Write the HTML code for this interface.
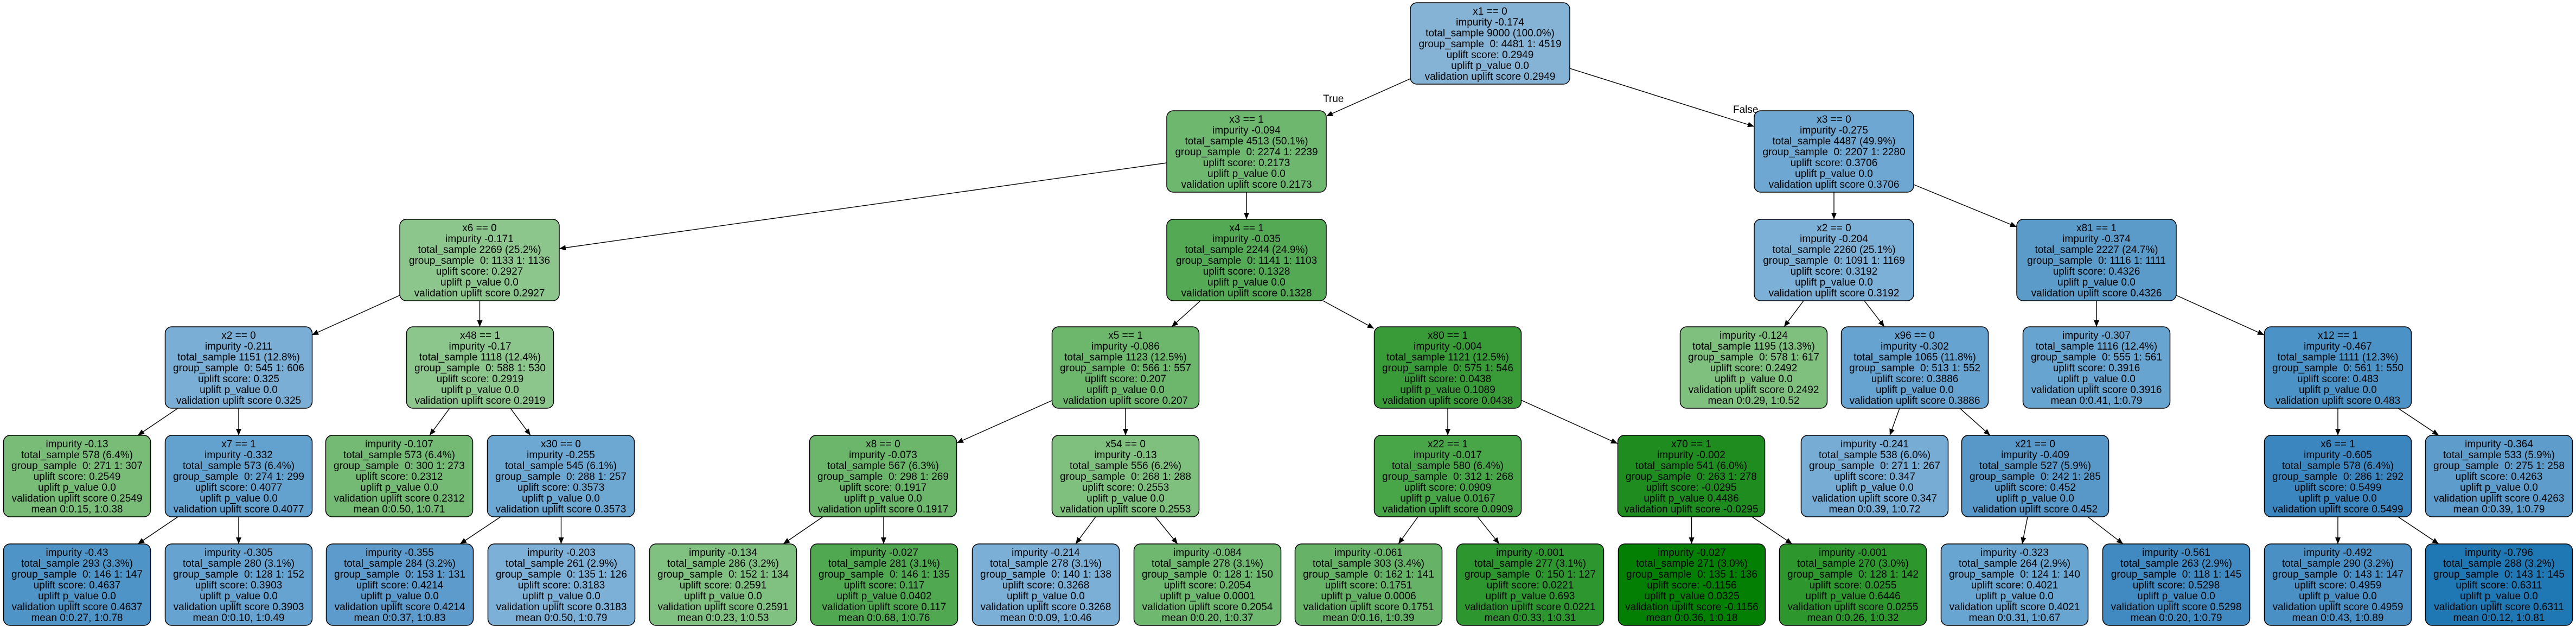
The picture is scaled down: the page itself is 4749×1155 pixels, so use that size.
<!DOCTYPE html>
<html><head><meta charset="utf-8"><style>
html,body{margin:0;padding:0;background:#fff;}
svg{display:block;}
text{font-family:"Liberation Sans",Arial,sans-serif;font-size:19px;fill:#000;white-space:pre;}
.n text{text-anchor:middle;}
rect{stroke:#000;stroke-width:1.5;}
line{stroke:#000;stroke-width:1.4;}
</style></head><body>
<svg width="4749" height="1155" viewBox="0 0 4749 1155" xmlns="http://www.w3.org/2000/svg">
<defs><marker id="ah" viewBox="0 0 12 10" refX="12" refY="5" markerWidth="12" markerHeight="10" markerUnits="userSpaceOnUse" orient="auto"><path d="M0,0 L12,5 L0,10 z" fill="#000"/></marker></defs>
<g marker-end="url(#ah)">
<line x1="2600" y1="145" x2="2445" y2="214" marker-end="url(#ah)"/>
<line x1="2894" y1="126" x2="3234" y2="233" marker-end="url(#ah)"/>
<line x1="2151" y1="300" x2="1031" y2="458" marker-end="url(#ah)"/>
<line x1="2298" y1="354" x2="2298" y2="404" marker-end="url(#ah)"/>
<line x1="3381" y1="354" x2="3381" y2="404" marker-end="url(#ah)"/>
<line x1="3528" y1="340" x2="3718" y2="418" marker-end="url(#ah)"/>
<line x1="737" y1="544" x2="575" y2="617" marker-end="url(#ah)"/>
<line x1="884.5" y1="554" x2="884.5" y2="602" marker-end="url(#ah)"/>
<line x1="2213" y1="554" x2="2160" y2="602" marker-end="url(#ah)"/>
<line x1="2439" y1="554" x2="2533" y2="605" marker-end="url(#ah)"/>
<line x1="3325" y1="554" x2="3289" y2="602" marker-end="url(#ah)"/>
<line x1="3437" y1="554" x2="3474" y2="602" marker-end="url(#ah)"/>
<line x1="3865" y1="554" x2="3865" y2="602" marker-end="url(#ah)"/>
<line x1="4012" y1="544" x2="4174" y2="617" marker-end="url(#ah)"/>
<line x1="328" y1="752" x2="254" y2="802" marker-end="url(#ah)"/>
<line x1="440" y1="752" x2="440" y2="802" marker-end="url(#ah)"/>
<line x1="829" y1="752" x2="792" y2="802" marker-end="url(#ah)"/>
<line x1="941" y1="752" x2="978" y2="802" marker-end="url(#ah)"/>
<line x1="1939" y1="738" x2="1764" y2="816" marker-end="url(#ah)"/>
<line x1="2075" y1="752" x2="2075" y2="802" marker-end="url(#ah)"/>
<line x1="2669" y1="752" x2="2669" y2="802" marker-end="url(#ah)"/>
<line x1="2804" y1="737" x2="2982" y2="817" marker-end="url(#ah)"/>
<line x1="3502" y1="752" x2="3484" y2="802" marker-end="url(#ah)"/>
<line x1="3613" y1="752" x2="3669" y2="802" marker-end="url(#ah)"/>
<line x1="4310" y1="752" x2="4310" y2="802" marker-end="url(#ah)"/>
<line x1="4421" y1="752" x2="4496" y2="802" marker-end="url(#ah)"/>
<line x1="328" y1="952" x2="254" y2="1002" marker-end="url(#ah)"/>
<line x1="440" y1="952" x2="440" y2="1002" marker-end="url(#ah)"/>
<line x1="923" y1="952" x2="848" y2="1002" marker-end="url(#ah)"/>
<line x1="1034.5" y1="952" x2="1034.5" y2="1002" marker-end="url(#ah)"/>
<line x1="1517" y1="952" x2="1444" y2="1002" marker-end="url(#ah)"/>
<line x1="1629" y1="952" x2="1629" y2="1002" marker-end="url(#ah)"/>
<line x1="2020" y1="952" x2="1983" y2="1002" marker-end="url(#ah)"/>
<line x1="2130" y1="952" x2="2171" y2="1002" marker-end="url(#ah)"/>
<line x1="2614" y1="952" x2="2578" y2="1002" marker-end="url(#ah)"/>
<line x1="2724" y1="952" x2="2764" y2="1002" marker-end="url(#ah)"/>
<line x1="3118.5" y1="952" x2="3118.5" y2="1002" marker-end="url(#ah)"/>
<line x1="3230" y1="952" x2="3304" y2="1002" marker-end="url(#ah)"/>
<line x1="3738" y1="952" x2="3728" y2="1002" marker-end="url(#ah)"/>
<line x1="3849" y1="952" x2="3914" y2="1002" marker-end="url(#ah)"/>
<line x1="4310" y1="952" x2="4310" y2="1002" marker-end="url(#ah)"/>
<line x1="4421" y1="952" x2="4496" y2="1002" marker-end="url(#ah)"/>
</g>
<text x="2439" y="188">True</text>
<text x="3195" y="208">False</text>

<g class="n">
<!-- L0 -->
<rect x="2600" y="5" width="294" height="150" rx="12" fill="#84b3d6"/>
<text x="2747" y="27"><tspan x="2747">x1 == 0</tspan><tspan x="2747" dy="20">impurity -0.174</tspan><tspan x="2747" dy="20">total_sample 9000 (100.0%)</tspan><tspan x="2747" dy="20">group_sample  0: 4481 1: 4519</tspan><tspan x="2747" dy="20">uplift score: 0.2949</tspan><tspan x="2747" dy="20">uplift p_value 0.0</tspan><tspan x="2747" dy="20">validation uplift score 0.2949</tspan></text>
<!-- L1 -->
<rect x="2151" y="204" width="294" height="150" rx="12" fill="#6db76f"/>
<text x="2298" y="226"><tspan x="2298">x3 == 1</tspan><tspan x="2298" dy="20">impurity -0.094</tspan><tspan x="2298" dy="20">total_sample 4513 (50.1%)</tspan><tspan x="2298" dy="20">group_sample  0: 2274 1: 2239</tspan><tspan x="2298" dy="20">uplift score: 0.2173</tspan><tspan x="2298" dy="20">uplift p_value 0.0</tspan><tspan x="2298" dy="20">validation uplift score 0.2173</tspan></text>
<rect x="3234" y="204" width="294" height="150" rx="12" fill="#6ea7d1"/>
<text x="3381" y="226"><tspan x="3381">x3 == 0</tspan><tspan x="3381" dy="20">impurity -0.275</tspan><tspan x="3381" dy="20">total_sample 4487 (49.9%)</tspan><tspan x="3381" dy="20">group_sample  0: 2207 1: 2280</tspan><tspan x="3381" dy="20">uplift score: 0.3706</tspan><tspan x="3381" dy="20">uplift p_value 0.0</tspan><tspan x="3381" dy="20">validation uplift score 0.3706</tspan></text>
<!-- L2 -->
<rect x="737" y="404" width="294" height="150" rx="12" fill="#8cc68c"/>
<text x="884" y="426"><tspan x="884">x6 == 0</tspan><tspan x="884" dy="20">impurity -0.171</tspan><tspan x="884" dy="20">total_sample 2269 (25.2%)</tspan><tspan x="884" dy="20">group_sample  0: 1133 1: 1136</tspan><tspan x="884" dy="20">uplift score: 0.2927</tspan><tspan x="884" dy="20">uplift p_value 0.0</tspan><tspan x="884" dy="20">validation uplift score 0.2927</tspan></text>
<rect x="2151" y="404" width="294" height="150" rx="12" fill="#54a954"/>
<text x="2298" y="426"><tspan x="2298">x4 == 1</tspan><tspan x="2298" dy="20">impurity -0.035</tspan><tspan x="2298" dy="20">total_sample 2244 (24.9%)</tspan><tspan x="2298" dy="20">group_sample  0: 1141 1: 1103</tspan><tspan x="2298" dy="20">uplift score: 0.1328</tspan><tspan x="2298" dy="20">uplift p_value 0.0</tspan><tspan x="2298" dy="20">validation uplift score 0.1328</tspan></text>
<rect x="3234" y="404" width="294" height="150" rx="12" fill="#7cb0d7"/>
<text x="3381" y="426"><tspan x="3381">x2 == 0</tspan><tspan x="3381" dy="20">impurity -0.204</tspan><tspan x="3381" dy="20">total_sample 2260 (25.1%)</tspan><tspan x="3381" dy="20">group_sample  0: 1091 1: 1169</tspan><tspan x="3381" dy="20">uplift score: 0.3192</tspan><tspan x="3381" dy="20">uplift p_value 0.0</tspan><tspan x="3381" dy="20">validation uplift score 0.3192</tspan></text>
<rect x="3718" y="404" width="294" height="150" rx="12" fill="#5a9bca"/>
<text x="3865" y="426"><tspan x="3865">x81 == 1</tspan><tspan x="3865" dy="20">impurity -0.374</tspan><tspan x="3865" dy="20">total_sample 2227 (24.7%)</tspan><tspan x="3865" dy="20">group_sample  0: 1116 1: 1111</tspan><tspan x="3865" dy="20">uplift score: 0.4326</tspan><tspan x="3865" dy="20">uplift p_value 0.0</tspan><tspan x="3865" dy="20">validation uplift score 0.4326</tspan></text>
<!-- L3 -->
<rect x="304.5" y="602" width="271" height="150" rx="12" fill="#7aaed5"/>
<text x="440" y="624"><tspan x="440">x2 == 0</tspan><tspan x="440" dy="20">impurity -0.211</tspan><tspan x="440" dy="20">total_sample 1151 (12.8%)</tspan><tspan x="440" dy="20">group_sample  0: 545 1: 606</tspan><tspan x="440" dy="20">uplift score: 0.325</tspan><tspan x="440" dy="20">uplift p_value 0.0</tspan><tspan x="440" dy="20">validation uplift score 0.325</tspan></text>
<rect x="749.5" y="602" width="271" height="150" rx="12" fill="#8cc68c"/>
<text x="885" y="624"><tspan x="885">x48 == 1</tspan><tspan x="885" dy="20">impurity -0.17</tspan><tspan x="885" dy="20">total_sample 1118 (12.4%)</tspan><tspan x="885" dy="20">group_sample  0: 588 1: 530</tspan><tspan x="885" dy="20">uplift score: 0.2919</tspan><tspan x="885" dy="20">uplift p_value 0.0</tspan><tspan x="885" dy="20">validation uplift score 0.2919</tspan></text>
<rect x="1939.5" y="602" width="271" height="150" rx="12" fill="#6db76d"/>
<text x="2075" y="624"><tspan x="2075">x5 == 1</tspan><tspan x="2075" dy="20">impurity -0.086</tspan><tspan x="2075" dy="20">total_sample 1123 (12.5%)</tspan><tspan x="2075" dy="20">group_sample  0: 566 1: 557</tspan><tspan x="2075" dy="20">uplift score: 0.207</tspan><tspan x="2075" dy="20">uplift p_value 0.0</tspan><tspan x="2075" dy="20">validation uplift score 0.207</tspan></text>
<rect x="2533.5" y="602" width="271" height="150" rx="12" fill="#389b38"/>
<text x="2669" y="624"><tspan x="2669">x80 == 1</tspan><tspan x="2669" dy="20">impurity -0.004</tspan><tspan x="2669" dy="20">total_sample 1121 (12.5%)</tspan><tspan x="2669" dy="20">group_sample  0: 575 1: 546</tspan><tspan x="2669" dy="20">uplift score: 0.0438</tspan><tspan x="2669" dy="20">uplift p_value 0.1089</tspan><tspan x="2669" dy="20">validation uplift score 0.0438</tspan></text>
<rect x="3097.5" y="602" width="271" height="150" rx="12" fill="#7fc07f"/>
<text x="3233" y="624"><tspan x="3233">impurity -0.124</tspan><tspan x="3233" dy="20">total_sample 1195 (13.3%)</tspan><tspan x="3233" dy="20">group_sample  0: 578 1: 617</tspan><tspan x="3233" dy="20">uplift score: 0.2492</tspan><tspan x="3233" dy="20">uplift p_value 0.0</tspan><tspan x="3233" dy="20">validation uplift score 0.2492</tspan><tspan x="3233" dy="20">mean 0:0.29, 1:0.52</tspan></text>
<rect x="3394.5" y="602" width="271" height="150" rx="12" fill="#66a3d0"/>
<text x="3530" y="624"><tspan x="3530">x96 == 0</tspan><tspan x="3530" dy="20">impurity -0.302</tspan><tspan x="3530" dy="20">total_sample 1065 (11.8%)</tspan><tspan x="3530" dy="20">group_sample  0: 513 1: 552</tspan><tspan x="3530" dy="20">uplift score: 0.3886</tspan><tspan x="3530" dy="20">uplift p_value 0.0</tspan><tspan x="3530" dy="20">validation uplift score 0.3886</tspan></text>
<rect x="3729.5" y="602" width="271" height="150" rx="12" fill="#67a4d0"/>
<text x="3865" y="624"><tspan x="3865">impurity -0.307</tspan><tspan x="3865" dy="20">total_sample 1116 (12.4%)</tspan><tspan x="3865" dy="20">group_sample  0: 555 1: 561</tspan><tspan x="3865" dy="20">uplift score: 0.3916</tspan><tspan x="3865" dy="20">uplift p_value 0.0</tspan><tspan x="3865" dy="20">validation uplift score 0.3916</tspan><tspan x="3865" dy="20">mean 0:0.41, 1:0.79</tspan></text>
<rect x="4174.5" y="602" width="271" height="150" rx="12" fill="#4b92c6"/>
<text x="4310" y="624"><tspan x="4310">x12 == 1</tspan><tspan x="4310" dy="20">impurity -0.467</tspan><tspan x="4310" dy="20">total_sample 1111 (12.3%)</tspan><tspan x="4310" dy="20">group_sample  0: 561 1: 550</tspan><tspan x="4310" dy="20">uplift score: 0.483</tspan><tspan x="4310" dy="20">uplift p_value 0.0</tspan><tspan x="4310" dy="20">validation uplift score 0.483</tspan></text>
<!-- L4 -->
<rect x="6.5" y="802" width="271" height="150" rx="12" fill="#78bc78"/>
<text x="142" y="824"><tspan x="142">impurity -0.13</tspan><tspan x="142" dy="20">total_sample 578 (6.4%)</tspan><tspan x="142" dy="20">group_sample  0: 271 1: 307</tspan><tspan x="142" dy="20">uplift score: 0.2549</tspan><tspan x="142" dy="20">uplift p_value 0.0</tspan><tspan x="142" dy="20">validation uplift score 0.2549</tspan><tspan x="142" dy="20">mean 0:0.15, 1:0.38</tspan></text>
<rect x="304.5" y="802" width="271" height="150" rx="12" fill="#63a1ce"/>
<text x="440" y="824"><tspan x="440">x7 == 1</tspan><tspan x="440" dy="20">impurity -0.332</tspan><tspan x="440" dy="20">total_sample 573 (6.4%)</tspan><tspan x="440" dy="20">group_sample  0: 274 1: 299</tspan><tspan x="440" dy="20">uplift score: 0.4077</tspan><tspan x="440" dy="20">uplift p_value 0.0</tspan><tspan x="440" dy="20">validation uplift score 0.4077</tspan></text>
<rect x="600.5" y="802" width="271" height="150" rx="12" fill="#74ba74"/>
<text x="736" y="824"><tspan x="736">impurity -0.107</tspan><tspan x="736" dy="20">total_sample 573 (6.4%)</tspan><tspan x="736" dy="20">group_sample  0: 300 1: 273</tspan><tspan x="736" dy="20">uplift score: 0.2312</tspan><tspan x="736" dy="20">uplift p_value 0.0</tspan><tspan x="736" dy="20">validation uplift score 0.2312</tspan><tspan x="736" dy="20">mean 0:0.50, 1:0.71</tspan></text>
<rect x="898.5" y="802" width="271" height="150" rx="12" fill="#6da8d3"/>
<text x="1034" y="824"><tspan x="1034">x30 == 0</tspan><tspan x="1034" dy="20">impurity -0.255</tspan><tspan x="1034" dy="20">total_sample 545 (6.1%)</tspan><tspan x="1034" dy="20">group_sample  0: 288 1: 257</tspan><tspan x="1034" dy="20">uplift score: 0.3573</tspan><tspan x="1034" dy="20">uplift p_value 0.0</tspan><tspan x="1034" dy="20">validation uplift score 0.3573</tspan></text>
<rect x="1492.5" y="802" width="271" height="150" rx="12" fill="#6bb66b"/>
<text x="1628" y="824"><tspan x="1628">x8 == 0</tspan><tspan x="1628" dy="20">impurity -0.073</tspan><tspan x="1628" dy="20">total_sample 567 (6.3%)</tspan><tspan x="1628" dy="20">group_sample  0: 298 1: 269</tspan><tspan x="1628" dy="20">uplift score: 0.1917</tspan><tspan x="1628" dy="20">uplift p_value 0.0</tspan><tspan x="1628" dy="20">validation uplift score 0.1917</tspan></text>
<rect x="1939.5" y="802" width="271" height="150" rx="12" fill="#7fc07f"/>
<text x="2075" y="824"><tspan x="2075">x54 == 0</tspan><tspan x="2075" dy="20">impurity -0.13</tspan><tspan x="2075" dy="20">total_sample 556 (6.2%)</tspan><tspan x="2075" dy="20">group_sample  0: 268 1: 288</tspan><tspan x="2075" dy="20">uplift score: 0.2553</tspan><tspan x="2075" dy="20">uplift p_value 0.0</tspan><tspan x="2075" dy="20">validation uplift score 0.2553</tspan></text>
<rect x="2533.5" y="802" width="271" height="150" rx="12" fill="#48a548"/>
<text x="2669" y="824"><tspan x="2669">x22 == 1</tspan><tspan x="2669" dy="20">impurity -0.017</tspan><tspan x="2669" dy="20">total_sample 580 (6.4%)</tspan><tspan x="2669" dy="20">group_sample  0: 312 1: 268</tspan><tspan x="2669" dy="20">uplift score: 0.0909</tspan><tspan x="2669" dy="20">uplift p_value 0.0167</tspan><tspan x="2669" dy="20">validation uplift score 0.0909</tspan></text>
<rect x="2982.5" y="802" width="271" height="150" rx="12" fill="#1f8c1f"/>
<text x="3118" y="824"><tspan x="3118">x70 == 1</tspan><tspan x="3118" dy="20">impurity -0.002</tspan><tspan x="3118" dy="20">total_sample 541 (6.0%)</tspan><tspan x="3118" dy="20">group_sample  0: 263 1: 278</tspan><tspan x="3118" dy="20">uplift score: -0.0295</tspan><tspan x="3118" dy="20">uplift p_value 0.4486</tspan><tspan x="3118" dy="20">validation uplift score -0.0295</tspan></text>
<rect x="3320.5" y="802" width="271" height="150" rx="12" fill="#77add5"/>
<text x="3456" y="824"><tspan x="3456">impurity -0.241</tspan><tspan x="3456" dy="20">total_sample 538 (6.0%)</tspan><tspan x="3456" dy="20">group_sample  0: 271 1: 267</tspan><tspan x="3456" dy="20">uplift score: 0.347</tspan><tspan x="3456" dy="20">uplift p_value 0.0</tspan><tspan x="3456" dy="20">validation uplift score 0.347</tspan><tspan x="3456" dy="20">mean 0:0.39, 1:0.72</tspan></text>
<rect x="3616.5" y="802" width="271" height="150" rx="12" fill="#5898c8"/>
<text x="3752" y="824"><tspan x="3752">x21 == 0</tspan><tspan x="3752" dy="20">impurity -0.409</tspan><tspan x="3752" dy="20">total_sample 527 (5.9%)</tspan><tspan x="3752" dy="20">group_sample  0: 242 1: 285</tspan><tspan x="3752" dy="20">uplift score: 0.452</tspan><tspan x="3752" dy="20">uplift p_value 0.0</tspan><tspan x="3752" dy="20">validation uplift score 0.452</tspan></text>
<rect x="4174.5" y="802" width="271" height="150" rx="12" fill="#3b86bf"/>
<text x="4310" y="824"><tspan x="4310">x6 == 1</tspan><tspan x="4310" dy="20">impurity -0.605</tspan><tspan x="4310" dy="20">total_sample 578 (6.4%)</tspan><tspan x="4310" dy="20">group_sample  0: 286 1: 292</tspan><tspan x="4310" dy="20">uplift score: 0.5499</tspan><tspan x="4310" dy="20">uplift p_value 0.0</tspan><tspan x="4310" dy="20">validation uplift score 0.5499</tspan></text>
<rect x="4471.5" y="802" width="271" height="150" rx="12" fill="#5e9dcb"/>
<text x="4607" y="824"><tspan x="4607">impurity -0.364</tspan><tspan x="4607" dy="20">total_sample 533 (5.9%)</tspan><tspan x="4607" dy="20">group_sample  0: 275 1: 258</tspan><tspan x="4607" dy="20">uplift score: 0.4263</tspan><tspan x="4607" dy="20">uplift p_value 0.0</tspan><tspan x="4607" dy="20">validation uplift score 0.4263</tspan><tspan x="4607" dy="20">mean 0:0.39, 1:0.79</tspan></text>
<!-- L5 -->
<rect x="6.5" y="1002" width="271" height="150" rx="12" fill="#4e94c7"/>
<text x="142" y="1024"><tspan x="142">impurity -0.43</tspan><tspan x="142" dy="20">total_sample 293 (3.3%)</tspan><tspan x="142" dy="20">group_sample  0: 146 1: 147</tspan><tspan x="142" dy="20">uplift score: 0.4637</tspan><tspan x="142" dy="20">uplift p_value 0.0</tspan><tspan x="142" dy="20">validation uplift score 0.4637</tspan><tspan x="142" dy="20">mean 0:0.27, 1:0.78</tspan></text>
<rect x="304.5" y="1002" width="271" height="150" rx="12" fill="#66a3d0"/>
<text x="440" y="1024"><tspan x="440">impurity -0.305</tspan><tspan x="440" dy="20">total_sample 280 (3.1%)</tspan><tspan x="440" dy="20">group_sample  0: 128 1: 152</tspan><tspan x="440" dy="20">uplift score: 0.3903</tspan><tspan x="440" dy="20">uplift p_value 0.0</tspan><tspan x="440" dy="20">validation uplift score 0.3903</tspan><tspan x="440" dy="20">mean 0:0.10, 1:0.49</tspan></text>
<rect x="601.5" y="1002" width="271" height="150" rx="12" fill="#5c9bcb"/>
<text x="737" y="1024"><tspan x="737">impurity -0.355</tspan><tspan x="737" dy="20">total_sample 284 (3.2%)</tspan><tspan x="737" dy="20">group_sample  0: 153 1: 131</tspan><tspan x="737" dy="20">uplift score: 0.4214</tspan><tspan x="737" dy="20">uplift p_value 0.0</tspan><tspan x="737" dy="20">validation uplift score 0.4214</tspan><tspan x="737" dy="20">mean 0:0.37, 1:0.83</tspan></text>
<rect x="899.5" y="1002" width="271" height="150" rx="12" fill="#7cb0d7"/>
<text x="1035" y="1024"><tspan x="1035">impurity -0.203</tspan><tspan x="1035" dy="20">total_sample 261 (2.9%)</tspan><tspan x="1035" dy="20">group_sample  0: 135 1: 126</tspan><tspan x="1035" dy="20">uplift score: 0.3183</tspan><tspan x="1035" dy="20">uplift p_value 0.0</tspan><tspan x="1035" dy="20">validation uplift score 0.3183</tspan><tspan x="1035" dy="20">mean 0:0.50, 1:0.79</tspan></text>
<rect x="1197.5" y="1002" width="271" height="150" rx="12" fill="#80c080"/>
<text x="1333" y="1024"><tspan x="1333">impurity -0.134</tspan><tspan x="1333" dy="20">total_sample 286 (3.2%)</tspan><tspan x="1333" dy="20">group_sample  0: 152 1: 134</tspan><tspan x="1333" dy="20">uplift score: 0.2591</tspan><tspan x="1333" dy="20">uplift p_value 0.0</tspan><tspan x="1333" dy="20">validation uplift score 0.2591</tspan><tspan x="1333" dy="20">mean 0:0.23, 1:0.53</tspan></text>
<rect x="1494.5" y="1002" width="271" height="150" rx="12" fill="#50a850"/>
<text x="1630" y="1024"><tspan x="1630">impurity -0.027</tspan><tspan x="1630" dy="20">total_sample 281 (3.1%)</tspan><tspan x="1630" dy="20">group_sample  0: 146 1: 135</tspan><tspan x="1630" dy="20">uplift score: 0.117</tspan><tspan x="1630" dy="20">uplift p_value 0.0402</tspan><tspan x="1630" dy="20">validation uplift score 0.117</tspan><tspan x="1630" dy="20">mean 0:0.68, 1:0.76</tspan></text>
<rect x="1792.5" y="1002" width="271" height="150" rx="12" fill="#7bafd6"/>
<text x="1928" y="1024"><tspan x="1928">impurity -0.214</tspan><tspan x="1928" dy="20">total_sample 278 (3.1%)</tspan><tspan x="1928" dy="20">group_sample  0: 140 1: 138</tspan><tspan x="1928" dy="20">uplift score: 0.3268</tspan><tspan x="1928" dy="20">uplift p_value 0.0</tspan><tspan x="1928" dy="20">validation uplift score 0.3268</tspan><tspan x="1928" dy="20">mean 0:0.09, 1:0.46</tspan></text>
<rect x="2090.5" y="1002" width="271" height="150" rx="12" fill="#6fb86f"/>
<text x="2226" y="1024"><tspan x="2226">impurity -0.084</tspan><tspan x="2226" dy="20">total_sample 278 (3.1%)</tspan><tspan x="2226" dy="20">group_sample  0: 128 1: 150</tspan><tspan x="2226" dy="20">uplift score: 0.2054</tspan><tspan x="2226" dy="20">uplift p_value 0.0001</tspan><tspan x="2226" dy="20">validation uplift score 0.2054</tspan><tspan x="2226" dy="20">mean 0:0.20, 1:0.37</tspan></text>
<rect x="2387.5" y="1002" width="271" height="150" rx="12" fill="#66b266"/>
<text x="2523" y="1024"><tspan x="2523">impurity -0.061</tspan><tspan x="2523" dy="20">total_sample 303 (3.4%)</tspan><tspan x="2523" dy="20">group_sample  0: 162 1: 141</tspan><tspan x="2523" dy="20">uplift score: 0.1751</tspan><tspan x="2523" dy="20">uplift p_value 0.0006</tspan><tspan x="2523" dy="20">validation uplift score 0.1751</tspan><tspan x="2523" dy="20">mean 0:0.16, 1:0.39</tspan></text>
<rect x="2685.5" y="1002" width="271" height="150" rx="12" fill="#2e962e"/>
<text x="2821" y="1024"><tspan x="2821">impurity -0.001</tspan><tspan x="2821" dy="20">total_sample 277 (3.1%)</tspan><tspan x="2821" dy="20">group_sample  0: 150 1: 127</tspan><tspan x="2821" dy="20">uplift score: 0.0221</tspan><tspan x="2821" dy="20">uplift p_value 0.693</tspan><tspan x="2821" dy="20">validation uplift score 0.0221</tspan><tspan x="2821" dy="20">mean 0:0.33, 1:0.31</tspan></text>
<rect x="2983.5" y="1002" width="271" height="150" rx="12" fill="#037f03"/>
<text x="3119" y="1024"><tspan x="3119">impurity -0.027</tspan><tspan x="3119" dy="20">total_sample 271 (3.0%)</tspan><tspan x="3119" dy="20">group_sample  0: 135 1: 136</tspan><tspan x="3119" dy="20">uplift score: -0.1156</tspan><tspan x="3119" dy="20">uplift p_value 0.0325</tspan><tspan x="3119" dy="20">validation uplift score -0.1156</tspan><tspan x="3119" dy="20">mean 0:0.36, 1:0.18</tspan></text>
<rect x="3280.5" y="1002" width="271" height="150" rx="12" fill="#2d962d"/>
<text x="3416" y="1024"><tspan x="3416">impurity -0.001</tspan><tspan x="3416" dy="20">total_sample 270 (3.0%)</tspan><tspan x="3416" dy="20">group_sample  0: 128 1: 142</tspan><tspan x="3416" dy="20">uplift score: 0.0255</tspan><tspan x="3416" dy="20">uplift p_value 0.6446</tspan><tspan x="3416" dy="20">validation uplift score 0.0255</tspan><tspan x="3416" dy="20">mean 0:0.26, 1:0.32</tspan></text>
<rect x="3578.5" y="1002" width="271" height="150" rx="12" fill="#69a5d1"/>
<text x="3714" y="1024"><tspan x="3714">impurity -0.323</tspan><tspan x="3714" dy="20">total_sample 264 (2.9%)</tspan><tspan x="3714" dy="20">group_sample  0: 124 1: 140</tspan><tspan x="3714" dy="20">uplift score: 0.4021</tspan><tspan x="3714" dy="20">uplift p_value 0.0</tspan><tspan x="3714" dy="20">validation uplift score 0.4021</tspan><tspan x="3714" dy="20">mean 0:0.31, 1:0.67</tspan></text>
<rect x="3876.5" y="1002" width="271" height="150" rx="12" fill="#4189c1"/>
<text x="4012" y="1024"><tspan x="4012">impurity -0.561</tspan><tspan x="4012" dy="20">total_sample 263 (2.9%)</tspan><tspan x="4012" dy="20">group_sample  0: 118 1: 145</tspan><tspan x="4012" dy="20">uplift score: 0.5298</tspan><tspan x="4012" dy="20">uplift p_value 0.0</tspan><tspan x="4012" dy="20">validation uplift score 0.5298</tspan><tspan x="4012" dy="20">mean 0:0.20, 1:0.79</tspan></text>
<rect x="4174.5" y="1002" width="271" height="150" rx="12" fill="#4a90c5"/>
<text x="4310" y="1024"><tspan x="4310">impurity -0.492</tspan><tspan x="4310" dy="20">total_sample 290 (3.2%)</tspan><tspan x="4310" dy="20">group_sample  0: 143 1: 147</tspan><tspan x="4310" dy="20">uplift score: 0.4959</tspan><tspan x="4310" dy="20">uplift p_value 0.0</tspan><tspan x="4310" dy="20">validation uplift score 0.4959</tspan><tspan x="4310" dy="20">mean 0:0.43, 1:0.89</tspan></text>
<rect x="4471.5" y="1002" width="271" height="150" rx="12" fill="#1f77b4"/>
<text x="4607" y="1024"><tspan x="4607">impurity -0.796</tspan><tspan x="4607" dy="20">total_sample 288 (3.2%)</tspan><tspan x="4607" dy="20">group_sample  0: 143 1: 145</tspan><tspan x="4607" dy="20">uplift score: 0.6311</tspan><tspan x="4607" dy="20">uplift p_value 0.0</tspan><tspan x="4607" dy="20">validation uplift score 0.6311</tspan><tspan x="4607" dy="20">mean 0:0.12, 1:0.81</tspan></text>
</g>
</svg>
</body></html>
